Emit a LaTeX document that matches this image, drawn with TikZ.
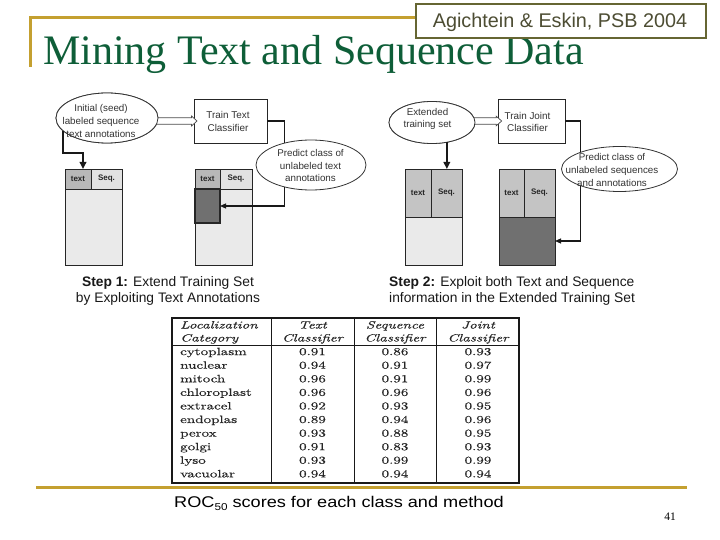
\documentclass[tikz,border=0pt]{standalone}
\usepackage{fontspec}
\usepackage{graphicx}
\newfontfamily\arialf{Liberation Sans}
\newfontfamily\timesf{Liberation Serif}
\newfontfamily\tabrm{Latin Modern Roman}[FakeBold=0.35, ItalicFeatures={FakeBold=0.35}]
\usetikzlibrary{shapes.geometric,arrows.meta,calc}
\definecolor{gold}{RGB}{196,160,48}
\definecolor{titlegreen}{RGB}{14,94,56}
\definecolor{olivebox}{RGB}{102,102,51}
\definecolor{olivetext}{RGB}{77,77,51}
\definecolor{cellmid}{RGB}{184,184,184}
\definecolor{celllight}{RGB}{226,226,226}
\definecolor{cellbody}{RGB}{234,234,234}
\definecolor{celldark}{RGB}{112,112,112}
\definecolor{cellhead}{RGB}{196,196,196}
\newcommand\tstretch[1]{\scalebox{1.42}[1]{#1}}
\begin{document}
\begin{tikzpicture}[x=1pt,y=-1pt,
  ell/.style={ellipse, draw=black!80, line width=0.8pt, fill=white, inner sep=0pt, outer sep=0pt},
  lbl/.style={font=\arialf\fontsize{9.8}{12.7}\selectfont, text=black!80, align=center, inner sep=0pt},
  boxs/.style={draw=black!85, line width=0.9pt, fill=white, inner sep=0pt, outer sep=0pt},
  cellst/.style={draw=black!85, line width=0.8pt, inner sep=0pt, outer sep=0pt, anchor=north west},
  celltxt/.style={font=\arialf\bfseries\fontsize{8}{9}\selectfont, text=black!85, inner sep=0pt},
  thickarr/.style={line width=2pt, black!90, -{Triangle[length=7pt,width=6.5pt]}},
  thinarr/.style={line width=1.1pt, black!90, -{Triangle[length=6pt,width=5pt]}},
  conn/.style={line width=1.1pt, black!90},
  hollow/.style={draw=black!70, line width=0.7pt, fill=white, line join=miter},
  steptxt/.style={font=\arialf\fontsize{13.8}{16}\selectfont, text=black!90, inner sep=0pt},
  tcell/.style={font=\tabrm\fontsize{10.6}{12}\selectfont, text=black!85, inner sep=0pt},
  tgrid/.style={line width=1pt, black!90}
]
\useasboundingbox (0,0) rectangle (720,540);
\fill[white] (0,0) rectangle (720,540);

% ---- header ----
\draw[gold, line width=3pt] (30,67) -- (30,18) -- (415,18);
\node[anchor=base west, inner sep=0pt, font=\timesf\fontsize{42}{46}\selectfont, text=titlegreen] (title) at (43,65) {Mining Text and Sequence Data};
\node[draw=olivebox, line width=2pt, fill=white, minimum width=290pt, minimum height=34pt, inner sep=0pt] (refbox) at (561,21.5) {};
\node[anchor=base, inner sep=0pt, font=\arialf\fontsize{19.8}{22}\selectfont, text=olivetext] (reftext) at (560,27.7) {Agichtein \& Eskin, PSB 2004};

% ---- step 1 tables ----
\node[cellst, fill=cellbody, minimum width=57pt, minimum height=96pt] (t1) at (65,169) {};
\node[cellst, fill=cellmid, minimum width=26pt, minimum height=20pt] (t1a) at (65,169) {};
\node[cellst, fill=celllight, minimum width=31pt, minimum height=20pt] (t1b) at (91,169) {};
\node[celltxt] (t1at) at (t1a) {text};
\node[celltxt] (t1bt) at (t1b) {Seq.};

\node[cellst, fill=cellbody, minimum width=57pt, minimum height=96pt] (t2) at (195,169) {};
\node[cellst, fill=cellmid, minimum width=25pt, minimum height=20pt] (t2a) at (195,169) {};
\node[cellst, fill=celllight, minimum width=32pt, minimum height=20pt] (t2b) at (220,169) {};
\node[cellst, fill=celldark, line width=1.3pt, minimum width=25pt, minimum height=34pt] (t2d) at (195,189) {};
\node[celltxt] (t2at) at (t2a) {text};
\node[celltxt] (t2bt) at (t2b) {Seq.};

% ---- step 2 tables ----
\node[cellst, fill=cellbody, minimum width=57pt, minimum height=96pt] (t3) at (405,169) {};
\node[cellst, fill=cellhead, minimum width=26pt, minimum height=48pt] (t3a) at (405,169) {};
\node[cellst, fill=cellhead, minimum width=31pt, minimum height=48pt] (t3b) at (431,169) {};
\node[celltxt] (t3at) at (t3a) {text};
\node[celltxt] (t3bt) at (t3b) {Seq.};

\node[cellst, fill=celldark, minimum width=56pt, minimum height=96pt] (t4) at (499,169) {};
\node[cellst, fill=cellhead, minimum width=25pt, minimum height=48pt] (t4a) at (499,169) {};
\node[cellst, fill=cellhead, minimum width=31pt, minimum height=48pt] (t4b) at (524,169) {};
\node[cellst, fill=celldark, minimum width=56pt, minimum height=48pt] (t4d) at (499,217) {};
\node[celltxt] (t4at) at (t4a) {text};
\node[celltxt] (t4bt) at (t4b) {Seq.};

% ---- classifier boxes ----
\node[boxs, minimum width=73pt, minimum height=44pt] (tt) at (230.5,121) {};
\node[lbl, font=\arialf\fontsize{9.9}{13}\selectfont] (ttt) at (228,121.5) {Train Text\\Classifier};
\node[boxs, minimum width=67pt, minimum height=44pt] (tj) at (531.5,121) {};
\node[lbl, font=\arialf\fontsize{9.9}{12}\selectfont] (tjt) at (527.5,121.7) {Train Joint\\Classifier};

% ---- ellipses ----
\node[ell, minimum width=102pt, minimum height=50pt] (e1) at (107,118) {};
\node[ell, minimum width=86pt, minimum height=42pt] (e3) at (432,122.5) {};

% hollow arrows (drawn under the ellipses, over the boxes)
\draw[hollow] ($(e1.east |- tt.west)+(-8,-3.3)$) -- ($(tt.west)+(-2.5,-3.3)$) -- ($(tt.west)+(-2.5,-5)$)
  -- ($(tt.west)+(3,0)$) -- ($(tt.west)+(-2.5,5)$) -- ($(tt.west)+(-2.5,3.3)$) -- ($(e1.east |- tt.west)+(-8,3.3)$);
\draw[hollow] ($(e3.east |- tj.west)+(-8,-3.3)$) -- ($(tj.west)+(-1.8,-3.3)$) -- ($(tj.west)+(-1.8,-4.8)$)
  -- ($(tj.west)+(3.7,0)$) -- ($(tj.west)+(-1.8,4.8)$) -- ($(tj.west)+(-1.8,3.3)$) -- ($(e3.east |- tj.west)+(-8,3.3)$);

\node[ell, minimum width=102pt, minimum height=50pt] (e1b) at (e1) {};
\node[ell, minimum width=86pt, minimum height=42pt] (e3b) at (e3) {};
\node[lbl] (e1t) at (101,121) {Initial (seed)\\labeled sequence\\text annotations};
\node[lbl, font=\arialf\fontsize{9.8}{12.3}\selectfont] (e3t) at (427.5,119) {Extended\\training set};

\node[ell, minimum width=110pt, minimum height=50pt] (e2) at (311,165) {};
\node[lbl] (e2t) at (310.5,165.5) {Predict class of\\unlabeled text\\annotations};
\node[ell, minimum width=116pt, minimum height=45pt] (e4) at (619.5,169) {};
\node[lbl] (e4t) at (612,170) {Predict class of\\unlabeled sequences\\and annotations};

% ---- connectors ----
\coordinate (k1) at (83,153);
\draw[thickarr] (e1.196) |- (k1) -- (k1 |- t1.north);
\draw[conn] (tt.east) -| (e2.141);
\draw[thinarr] (e2.219) |- (t2d.east);

\draw[thickarr] (e3.307) -- (e3.307 |- t3.north);
\draw[conn] (tj.east) -| (e4.157);
\draw[thinarr] (e4.203) |- (t4d.east);

% ---- step captions ----
\node[steptxt, align=center] (s1) at (168,291) {\textbf{Step 1:} Extend Training Set\\by Exploiting Text Annotations};
\node[steptxt, align=left, anchor=west] (s2) at (389,291) {\textbf{Step 2:} Exploit both Text and Sequence\\information in the Extended Training Set};

% ---- results table ----
\draw[tgrid, line width=1.4pt] (172,318) rectangle (519,483);
\draw[tgrid] (271,318) -- (271,483);
\draw[tgrid] (354,318) -- (354,483);
\draw[tgrid] (436,318) -- (436,483);
\draw[tgrid] (172,345) -- (519,345);

\node[tcell, anchor=base west] (h1a) at (180,328.5) {\itshape\tstretch{Localization}};
\node[tcell, anchor=base west] (h1b) at (180,341.5) {\itshape\tstretch{Category}};
\node[tcell, anchor=base] (h2a) at (312.5,328.5) {\itshape\tstretch{Text}};
\node[tcell, anchor=base] (h2b) at (312.5,341.5) {\itshape\tstretch{Classifier}};
\node[tcell, anchor=base] (h3a) at (395,328.5) {\itshape\tstretch{Sequence}};
\node[tcell, anchor=base] (h3b) at (395,341.5) {\itshape\tstretch{Classifier}};
\node[tcell, anchor=base] (h4a) at (478,328.5) {\itshape\tstretch{Joint}};
\node[tcell, anchor=base] (h4b) at (478,341.5) {\itshape\tstretch{Classifier}};

\foreach \cat/\va/\vb/\vc [count=\i] in {cytoplasm/0.91/0.86/0.93, nuclear/0.94/0.91/0.97,
  mitoch/0.96/0.91/0.99, chloroplast/0.96/0.96/0.96, extracel/0.92/0.93/0.95,
  endoplas/0.89/0.94/0.96, perox/0.93/0.88/0.95, golgi/0.91/0.83/0.93,
  lyso/0.93/0.99/0.99, vacuolar/0.94/0.94/0.94} {
  \node[tcell, anchor=base west] (rc\i) at (180,{355.1+13.58*(\i-1)}) {\tstretch{\cat}};
  \node[tcell, anchor=base] (ra\i) at (312.5,{355.1+13.58*(\i-1)}) {\tstretch{\va}};
  \node[tcell, anchor=base] (rb\i) at (395,{355.1+13.58*(\i-1)}) {\tstretch{\vb}};
  \node[tcell, anchor=base] (rd\i) at (478,{355.1+13.58*(\i-1)}) {\tstretch{\vc}};
}

% ---- footer ----
\draw[gold, line width=3pt] (36,487) -- (687,487);
\node[anchor=base west, inner sep=0pt, font=\arialf\fontsize{15.5}{18}\selectfont, text=black] (cap) at (174,507)
  {\scalebox{1.17}[1]{ROC\raisebox{-3pt}{\fontsize{10}{10}\selectfont 50} scores for each class and method}};
\node[anchor=base, inner sep=0pt, font=\timesf\fontsize{11.5}{12}\selectfont] (pg) at (670,520) {41};
\end{tikzpicture}
\end{document}
